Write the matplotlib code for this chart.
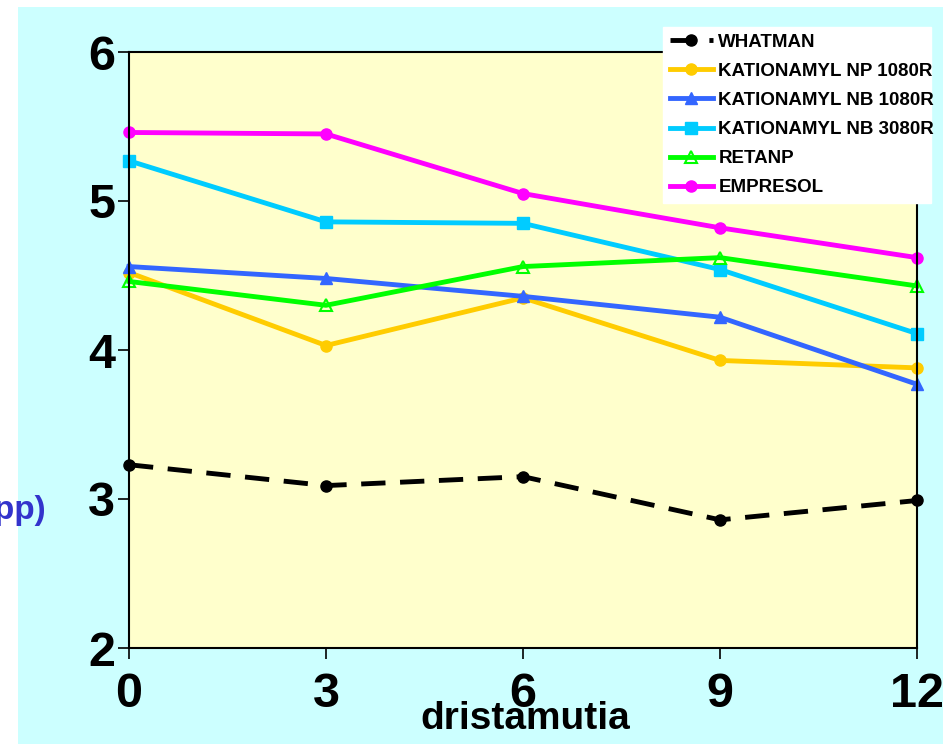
import matplotlib
matplotlib.use("Agg")
import matplotlib.pyplot as plt
from matplotlib.patches import Rectangle

FONT = 'Liberation Sans'

x = [0, 3, 6, 9, 12]
whatman = [3.23, 3.09, 3.15, 2.86, 2.99]
np1080r = [4.52, 4.03, 4.35, 3.93, 3.88]
nb1080r = [4.56, 4.48, 4.36, 4.22, 3.77]
nb3080r = [5.27, 4.86, 4.85, 4.54, 4.11]
retanp = [4.46, 4.30, 4.56, 4.62, 4.43]
empresol = [5.46, 5.45, 5.05, 4.82, 4.62]
labels = ['WHATMAN', 'KATIONAMYL NP 1080R', 'KATIONAMYL NB 1080R',
          'KATIONAMYL NB 3080R', 'RETANP', 'EMPRESOL']
xticks = ['0', '3', '6', '9', '12']
yticks = [2, 3, 4, 5, 6]

fig = plt.figure(figsize=(9.43, 7.44), dpi=100)
fig.patch.set_facecolor('white')
fig.patches.append(Rectangle((18/943, 0), 1 - 18/943, 1 - 7/744,
                             transform=fig.transFigure, facecolor='#CCFFFF',
                             edgecolor='none', zorder=-10))

ax = fig.add_axes([129/943, 1 - 648/744, (917-129)/943, (648-52)/744])
ax.set_facecolor('#FFFFCC')
ax.set_xlim(0, 12)
ax.set_ylim(2, 6)

lw = 3.5
ax.plot(x, whatman, color='black', ls=(0, (5, 3)), lw=lw, marker='o', ms=8, label=labels[0], clip_on=False)
ax.plot(x, np1080r, color='#FFCC00', lw=lw, marker='o', ms=8, label=labels[1], clip_on=False)
ax.plot(x, nb1080r, color='#3366FF', lw=lw, marker='^', ms=9, label=labels[2], clip_on=False)
ax.plot(x, nb3080r, color='#00CCFF', lw=lw, marker='s', ms=8, label=labels[3], clip_on=False)
ax.plot(x, retanp, color='#00FF00', lw=lw, marker='^', ms=8, mfc='none', mew=1.5, label=labels[4], clip_on=False)
ax.plot(x, empresol, color='#FF00FF', lw=lw, marker='o', ms=8, label=labels[5], clip_on=False)

ax.set_xticks(x)
ax.set_xticklabels(xticks)
ax.set_yticks(yticks)
for lab in ax.get_xticklabels() + ax.get_yticklabels():
    lab.set_fontfamily(FONT)
    lab.set_fontweight('bold')
    lab.set_fontsize(35)
ax.tick_params(axis='x', direction='out', length=8, width=1.2, pad=9)
ax.tick_params(axis='y', direction='out', length=8, width=1.2, pad=2)
for s in ax.spines.values():
    s.set_linewidth(1.5)

fig.text(525/943, 1 - 719/744, 'dristamutia', fontfamily=FONT, fontweight='bold',
         fontsize=28, ha='center', va='center')

fig.text(46/943, 1 - 510/744, '(%pp)', color='#3333CC', fontsize=24, fontweight='bold',
         fontfamily=FONT, ha='right', va='center')

leg = ax.legend(loc='upper left',
                bbox_to_anchor=(663/943, 1 - 203/744, (931-663)/943, (203-27)/744),
                bbox_transform=fig.transFigure, mode='expand', frameon=True, fancybox=False,
                edgecolor='white', facecolor='white', framealpha=1,
                prop={'family': FONT, 'weight': 'bold', 'size': 13.5},
                handlelength=2.3, labelspacing=0.64, borderpad=0.35, handletextpad=0.3,
                borderaxespad=0)

fig.savefig('out.png', dpi=100, facecolor=fig.get_facecolor())
